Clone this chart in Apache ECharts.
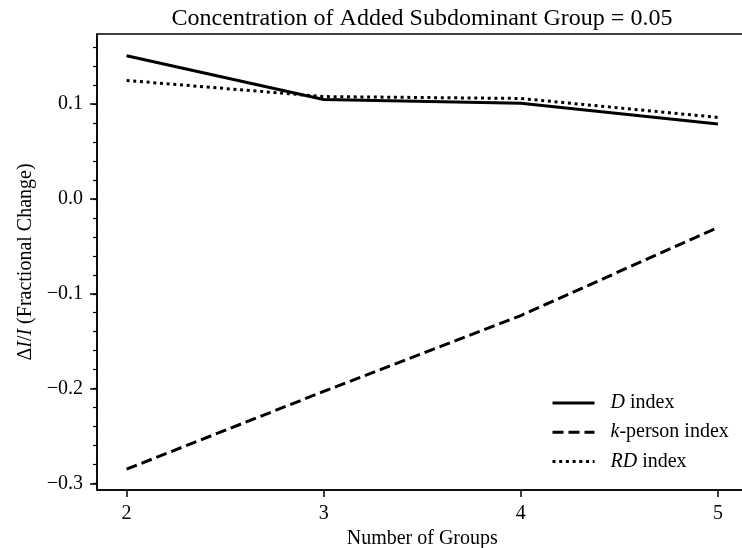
<!DOCTYPE html>
<html>
<head>
<meta charset="utf-8">
<style>
  html, body { margin: 0; padding: 0; background: #fff; }
  #chart { width: 742px; height: 548px; }
</style>
<script src="https://cdn.jsdelivr.net/npm/echarts@6/dist/echarts.min.js"></script>
</head>
<body>
<div id="chart"></div>
<script>
// Number of groups on the x axis
const groupCounts = [2, 3, 4, 5];

// Fractional change (ΔI/I) of each index
const dIndex = [0.151, 0.105, 0.101, 0.079];
const kPersonIndex = [-0.285, -0.203, -0.123, -0.030];
const rdIndex = [0.125, 0.108, 0.106, 0.086];

// Axis ticks and their labels
const xTicks = [2, 3, 4, 5];
const xTickLabels = ['2', '3', '4', '5'];
const yTicks = [-0.3, -0.2, -0.1, 0.0, 0.1];
const yTickLabels = ['\u22120.3', '\u22120.2', '\u22120.1', '0.0', '0.1'];
const yMinorTicks = [-0.30, -0.28, -0.26, -0.24, -0.22, -0.20, -0.18, -0.16, -0.14, -0.12,
                     -0.10, -0.08, -0.06, -0.04, -0.02, 0.00, 0.02, 0.04, 0.06, 0.08,
                     0.10, 0.12, 0.14, 0.16];

// Legend text, with the italic part marked for rich text
const legendLabels = {
  'D index': '{g|}{i|D} index',
  'k-person index': '{g|}{i|k}-person index',
  'RD index': '{g|}{i|RD} index'
};

const SERIF = '"Liberation Serif", "Times New Roman", serif';
const X_MIN = 1.85, X_MAX = 5.15;
const Y_MIN = -0.307, Y_MAX = 0.174;

function pairs(xs, ys) { return xs.map((x, i) => [x, ys[i]]); }
function labelFor(ticks, labels) {
  return v => {
    const i = ticks.findIndex(t => Math.abs(t - v) < 1e-9);
    return i >= 0 ? labels[i] : '';
  };
}

const chart = echarts.init(document.getElementById('chart'), null, { renderer: 'canvas' });

const lineSeries = (name, values, type) => ({
  name: name,
  type: 'line',
  data: pairs(groupCounts, values),
  symbol: 'none',
  showSymbol: false,
  xAxisIndex: 0,
  yAxisIndex: 0,
  lineStyle: { color: '#000', width: 3, type: type, cap: 'butt' },
  itemStyle: { color: '#000' },
  emphasis: { disabled: true },
  animation: false
});

chart.setOption({
  animation: false,
  backgroundColor: '#fff',
  graphic: [{
    type: 'text',
    x: 422,
    y: 7,
    style: {
      text: 'Concentration of Added Subdominant Group = 0.05',
      fontFamily: SERIF,
      fontSize: 24,
      fill: '#000',
      align: 'center',
      verticalAlign: 'top'
    }
  }],
  grid: {
    left: 97,
    top: 34,
    width: 650.5,
    height: 456,
    show: true,
    borderColor: '#000',
    borderWidth: 1.5,
    backgroundColor: 'transparent',
    containLabel: false,
    outerBoundsMode: 'none'
  },
  legend: {
    orient: 'vertical',
    left: 551,
    top: 393,
    padding: 0,
    itemWidth: 42,
    itemHeight: 20,
    itemGap: 9.2,
    selectedMode: false,
    data: ['D index', 'k-person index', 'RD index'],
    formatter: name => legendLabels[name],
    lineStyle: { width: 3 },
    itemStyle: { opacity: 0, borderWidth: 0, color: 'transparent' },
    textStyle: {
      fontFamily: SERIF,
      fontSize: 20,
      color: '#000',
      rich: {
        g: { width: 11 },
        i: { fontFamily: SERIF, fontSize: 20, fontStyle: 'italic', color: '#000' }
      }
    }
  },
  xAxis: [{
    type: 'value',
    min: X_MIN,
    max: X_MAX,
    name: 'Number of Groups',
    nameLocation: 'middle',
    nameGap: 34,
    nameTextStyle: { fontFamily: SERIF, fontSize: 20, color: '#000' },
    axisLine: { show: true, onZero: false, lineStyle: { color: '#000', width: 1.5 } },
    axisTick: { show: true, inside: false, length: 7, customValues: xTicks, lineStyle: { color: '#000', width: 1.5 } },
    axisLabel: {
      show: true, margin: 14, customValues: xTicks,
      formatter: labelFor(xTicks, xTickLabels),
      fontFamily: SERIF, fontSize: 20, color: '#000'
    },
    splitLine: { show: false }
  }],
  yAxis: [{
    type: 'value',
    min: Y_MIN,
    max: Y_MAX,
    name: '\u0394{i|I}/{i|I} (Fractional Change)',
    nameLocation: 'middle',
    nameGap: 54,
    nameRotate: 90,
    nameTextStyle: {
      fontFamily: SERIF, fontSize: 20, color: '#000',
      rich: { i: { fontFamily: SERIF, fontSize: 20, fontStyle: 'italic', color: '#000' } }
    },
    axisLine: { show: true, onZero: false, lineStyle: { color: '#000', width: 1.5 } },
    axisTick: { show: true, inside: false, length: 7, customValues: yTicks, lineStyle: { color: '#000', width: 1.5 } },
    axisLabel: {
      show: true, margin: 14, customValues: yTicks,
      formatter: labelFor(yTicks, yTickLabels),
      fontFamily: SERIF, fontSize: 20, color: '#000'
    },
    splitLine: { show: false }
  }, {
    // minor ticks every 0.02
    type: 'value',
    min: Y_MIN,
    max: Y_MAX,
    position: 'left',
    axisLine: { show: false, onZero: false },
    axisTick: { show: true, inside: false, length: 4, customValues: yMinorTicks, lineStyle: { color: '#000', width: 1.2 } },
    axisLabel: { show: false },
    splitLine: { show: false }
  }],
  series: [
    lineSeries('D index', dIndex, 'solid'),
    lineSeries('k-person index', kPersonIndex, [11, 5]),
    lineSeries('RD index', rdIndex, [3, 3.7])
  ]
});
</script>
</body>
</html>
